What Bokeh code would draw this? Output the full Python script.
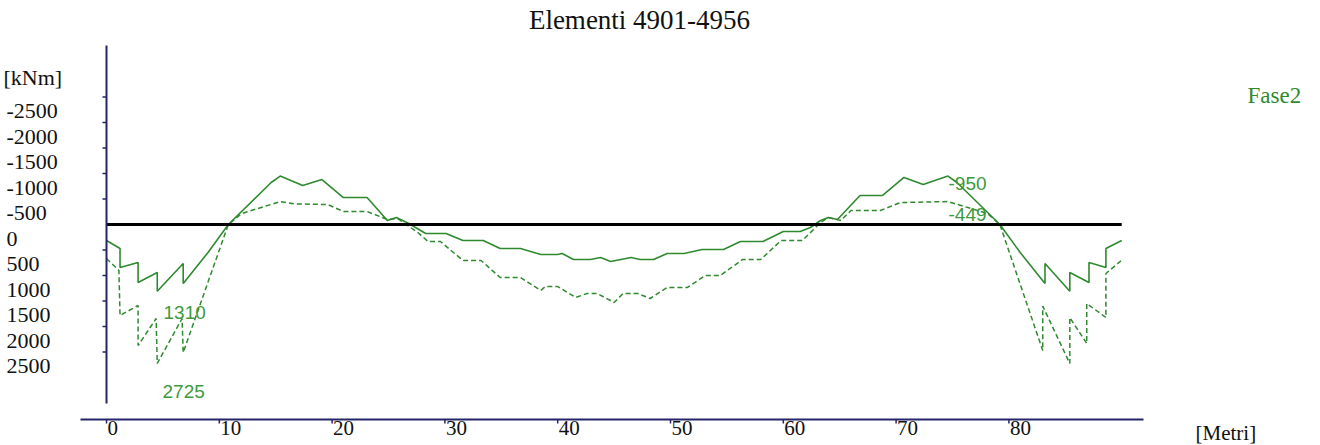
from bokeh.plotting import figure
from bokeh.models import Range1d
from bokeh.core.properties import value
from bokeh.embed import file_html
from bokeh.resources import INLINE

# ---------------- data ----------------
title_text = "Elementi 4901-4956"
series_name = "Fase2"
y_unit = "[kNm]"
x_unit = "[Metri]"

x_ticks = [0, 10, 20, 30, 40, 50, 60, 70, 80]
y_ticks = [-2500, -2000, -1500, -1000, -500, 0, 500, 1000, 1500, 2000, 2500]

# solid line (metres, kNm)
solid_x = [0, 1.2, 1.2, 2.8, 2.8, 4.5, 4.5, 6.8, 6.8, 9.0, 10.8, 14.6, 15.4, 17.4, 19.1,
           21.0, 23.1, 24.9, 25.7, 26.8, 28.3, 30.1, 31.6, 33.4, 34.9, 36.7, 38.5, 40.0,
           40.4, 41.4, 42.9, 43.8, 44.7, 46.5, 47.3, 48.5, 49.7, 51.2, 52.8, 54.7, 56.2,
           58.2, 60.0, 61.5, 62.4, 63.3, 64.0, 64.8, 66.8, 68.8, 70.7, 72.4, 74.6, 75.4,
           79.2, 81.0, 83.2, 83.2, 85.4, 85.4, 87.1, 87.1, 88.6, 88.6, 90.0]
solid_y = [314, 470, 843, 745, 1137, 941, 1310, 765, 1157, 549, 0, -824, -950, -765, -882,
           -529, -529, -78, -137, -20, 176, 176, 314, 314, 470, 470, 588, 588,
           569, 686, 686, 647, 725, 647, 686, 686, 569, 569, 490, 490, 333,
           333, 137, 137, 59, -78, -137, -98, -569, -569, -922, -784, -950, -824,
           0, 549, 1157, 765, 1310, 941, 1137, 745, 843, 470, 314]

# dashed line (metres, kNm)
dash_x = [0, 1.1, 1.2, 2.8, 2.8, 4.4, 4.5, 6.7, 6.8, 10.8, 12.0, 15.4, 16.6, 19.6,
          21.0, 23.1, 24.9, 25.8, 27.6, 28.5, 29.6, 31.6, 33.2, 34.9, 36.7, 38.5, 38.9,
          40.0, 41.6, 42.6, 43.5, 45.0, 45.8, 47.1, 48.2, 49.7, 51.5, 53.1, 54.4, 56.4,
          58.0, 59.8, 61.7, 63.3, 64.0, 65.1, 66.0, 68.6, 70.4, 74.6, 78.1, 79.2,
          83.0, 83.0, 85.4, 85.4, 86.9, 86.9, 88.6, 88.6, 90.0]
dash_y = [667, 902, 1784, 1588, 2373, 1843, 2725, 1843, 2510, 0, -216, -449, -405, -392,
          -255, -255, -98, -118, 157, 333, 333, 706, 706, 1039, 1039, 1294, 1216,
          1216, 1431, 1353, 1353, 1529, 1353, 1353, 1451, 1235, 1235, 1000, 1000, 686,
          686, 314, 314, -39, -137, -78, -275, -275, -431, -449, -216, 0,
          2471, 1600, 2725, 1824, 2333, 1549, 1824, 961, 700]

value_labels = ["1310", "2725", "-950", "-449"]

# ---------------- layout helpers (picture pixels -> data) ----------------
W, H = 1310, 445
PX0, SX = 106.0, 11.28      # picture x of 0 m, px per metre
PY0, SY = 224.0, 0.051      # picture y of 0 kNm, px per kNm

def dx(px):
    return (px - PX0) / SX

def dy(py):
    return (py - PY0) / SY

p = figure(width=W, height=H, output_backend="svg", toolbar_location=None,
           x_range=Range1d(dx(0), dx(W)), y_range=Range1d(dy(H), dy(0)),
           min_border=0, outline_line_color=None)
p.xaxis.visible = False
p.yaxis.visible = False
p.xgrid.visible = False
p.ygrid.visible = False
p.background_fill_color = "white"
p.border_fill_color = "white"

AX = "#25256a"
GREEN = "#2f8a2f"
TGREEN = "#3d9a3d"
SERIF = value("Liberation Serif")
SANS = value("Liberation Sans")

# curves
p.line(dash_x, dash_y, line_color=GREEN, line_width=1.5, line_dash="5 3")
p.line(solid_x, solid_y, line_color=GREEN, line_width=1.6)

# zero line
p.line([min(solid_x), max(solid_x)], [0, 0], line_color="black", line_width=3)

# vertical axis
p.segment(x0=[0], y0=[dy(45)], x1=[0], y1=[dy(403)], line_color=AX, line_width=2)
yt = [t for t in y_ticks if t != 0]
p.segment(x0=[dx(102)] * len(yt), y0=yt, x1=[0] * len(yt), y1=yt, line_color=AX, line_width=1.5)
p.text(x=[dx(6)] * len(y_ticks), y=y_ticks, text=[str(t) for t in y_ticks],
       text_font=SERIF, text_font_size="22px", text_color="#111111",
       text_align="left", text_baseline="middle", y_offset=14)
p.text(x=[dx(3)], y=[dy(77)], text=[y_unit], text_font=SERIF, text_font_size="22px",
       text_color="#111111", text_align="left", text_baseline="middle")

# horizontal axis
p.segment(x0=[dx(80)], y0=[dy(419)], x1=[dx(1143)], y1=[dy(419)], line_color=AX, line_width=2)
p.segment(x0=x_ticks, y0=[dy(419)] * len(x_ticks), x1=x_ticks, y1=[dy(423)] * len(x_ticks),
          line_color=AX, line_width=1.5)
p.text(x=x_ticks, y=[dy(420)] * len(x_ticks), text=[str(t) for t in x_ticks],
       text_font=SERIF, text_font_size="21px", text_color="#111111",
       text_align="left", text_baseline="top", x_offset=1)
p.text(x=[dx(1195)], y=[dy(420)], text=[x_unit], text_font=SERIF, text_font_size="21px",
       text_color="#111111", text_align="left", text_baseline="top")

# title & series name
p.text(x=[dx(639)], y=[dy(19)], text=[title_text], text_font=SERIF, text_font_size="27px",
       text_color="#111111", text_align="center", text_baseline="middle")
p.text(x=[dx(1247)], y=[dy(95)], text=[series_name], text_font=SERIF, text_font_size="23px",
       text_color=GREEN, text_align="left", text_baseline="middle")

# value labels
lab_px = [163, 162, 948, 948]
lab_py = [312, 391, 183, 214]
p.text(x=[dx(v) for v in lab_px], y=[dy(v) for v in lab_py], text=value_labels,
       text_font=SANS, text_font_size="19px", text_color=TGREEN,
       text_align="left", text_baseline="middle")

open("out.html", "w").write(file_html(p, INLINE))
